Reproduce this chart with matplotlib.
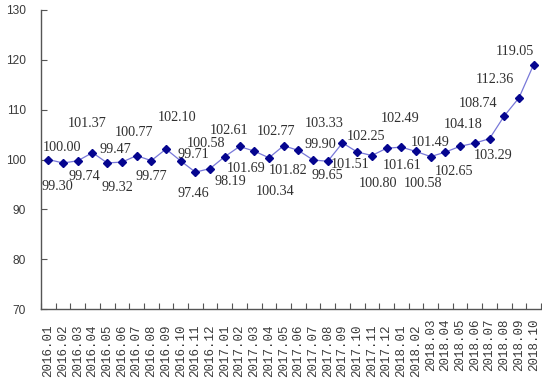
import matplotlib
matplotlib.use("Agg")
import matplotlib.pyplot as plt
from matplotlib.transforms import ScaledTranslation

months = ["2016.01", "2016.02", "2016.03", "2016.04", "2016.05", "2016.06",
          "2016.07", "2016.08", "2016.09", "2016.10", "2016.11", "2016.12",
          "2017.01", "2017.02", "2017.03", "2017.04", "2017.05", "2017.06",
          "2017.07", "2017.08", "2017.09", "2017.10", "2017.11", "2017.12",
          "2018.01", "2018.02", "2018.03", "2018.04", "2018.05", "2018.06",
          "2018.07", "2018.08", "2018.09", "2018.10"]
values = [100.00, 99.30, 99.74, 101.37, 99.32, 99.47, 100.77, 99.77, 102.10,
          99.71, 97.46, 98.19, 100.58, 102.61, 101.69, 100.34, 102.77, 101.82,
          99.90, 99.65, 103.33, 101.51, 100.80, 102.25, 102.49, 101.61, 100.58,
          101.49, 102.65, 103.29, 104.18, 108.74, 112.36, 119.05]
y_ticks = [70, 80, 90, 100, 110, 120, 130]

# label offsets in pixels (dx right, dy down) relative to each point
label_offsets = [(14, -12), (-6, 24), (7, 16), (-5, -29), (10, 25), (-7, -13),
                 (-3, -23), (0, 16), (11, -32), (13, -6), (-2, 21), (20, 13),
                 (-19, -13), (-10, -16), (-8, 17), (6, 34), (-8, -14), (-10, 20),
                 (7, -15), (0, 14), (-18, -19), (-7, 13), (6, 28), (-21, -12),
                 (-1, -29), (-14, 14), (-8, 27), (-15, -10), (-6, 25), (18, 12),
                 (-26, -14), (-26, -12), (-24, -18), (-19, -13)]

fig = plt.figure(figsize=(5.42, 3.85), dpi=100)
ax = fig.add_axes([41 / 542, 76 / 385, 500 / 542, 299 / 385])

x = list(range(len(values)))
ax.plot(x, values, color="#7878d8", linewidth=0.9, zorder=2)
ax.plot(x, values, linestyle="none", marker="D", markersize=3.8,
        color="#05058f", zorder=3)

for xi, v, (dx, dy) in zip(x, values, label_offsets):
    ax.annotate(f"{v:.2f}", (xi, v), xytext=(dx, -dy), textcoords="offset pixels",
                ha="center", va="center", fontsize=10.2,
                family="Liberation Serif", color="#303030")

ax.set_xlim(-0.5, len(values) - 0.5)
ax.set_ylim(70, 130)
ax.set_yticks(y_ticks)
ax.set_yticklabels([str(t) for t in y_ticks], family="Liberation Sans",
                   fontsize=8.6, color="#3a3a3a")

ax.set_xticks(x)
ax.set_xticklabels(months, rotation=90, family="Liberation Mono", fontsize=9,
                   color="#3a3a3a")
ax.set_xticks([i - 0.5 for i in range(len(values) + 1)], minor=True)
ax.tick_params(axis="x", which="major", length=0, pad=11)
ax.tick_params(axis="x", which="minor", direction="in", length=4,
               width=0.8, color="#555555")
ax.tick_params(axis="y", direction="in", length=4, width=0.8, color="#555555",
               pad=11)

for side in ["top", "right"]:
    ax.spines[side].set_visible(False)
for side in ["left", "bottom"]:
    ax.spines[side].set_color("#555555")
    ax.spines[side].set_linewidth(1.0)

shift = ScaledTranslation(0, 6 / 100, fig.dpi_scale_trans)
for i, lab in enumerate(ax.get_xticklabels()):
    if i >= 26:
        lab.set_transform(lab.get_transform() + shift)

fig.savefig("out.png", dpi=100, facecolor="white")
